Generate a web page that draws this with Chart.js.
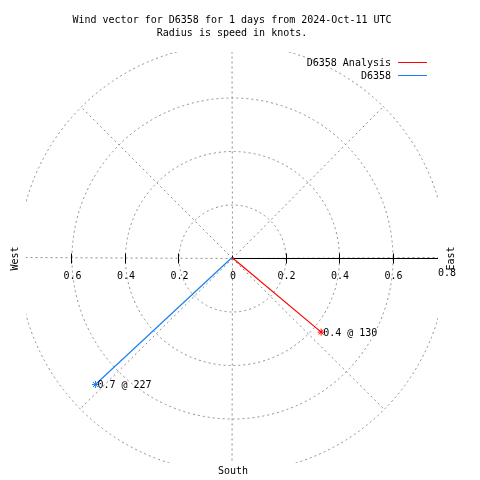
<!DOCTYPE html>
<html lang="en">
  <head>
    <meta charset="UTF-8" />
    <title>Wind vector for D6358</title>
    <script src="https://cdn.jsdelivr.net/npm/chart.js"></script>
    <style>
      body {
        margin: 0;
        background: white;
      }
      canvas {
        display: block;
      }
    </style>
  </head>
  <body>
    <canvas id="windChart" width="480" height="480"></canvas>

    <script>
      const titleLines = [
        "Wind vector for D6358 for 1 days from 2024-Oct-11 UTC",
        "Radius is speed in knots.",
      ];
      const seriesNames = ["D6358 Analysis", "D6358"];
      const seriesColors = ["#ff0000", "#1a80f0"];
      const speeds = [0.435, 0.698]; // knots
      const directions = [130, 227]; // degrees, clockwise from north
      const ringValues = [0.2, 0.4, 0.6, 0.8];
      const spokeAngles = [0, 45, 90, 135, 180, 225, 270, 315];
      const eastTicks = [0, 0.2, 0.4, 0.6, 0.8];
      const westTicks = [0.2, 0.4, 0.6];
      const plotLimit = 0.77;

      const FONT = "10px 'DejaVu Sans Mono', monospace";

      function toXY(speed, deg) {
        const rad = (deg * Math.PI) / 180;
        return { x: speed * Math.sin(rad), y: speed * Math.cos(rad) };
      }

      const polarGrid = {
        id: "polarGrid",
        beforeDatasetsDraw(chart) {
          const { ctx, chartArea, scales } = chart;
          const sx = scales.x, sy = scales.y;
          const cx = Math.round(sx.getPixelForValue(0)) + 0.5;
          const cy = Math.round(sy.getPixelForValue(0)) + 0.5;
          const unit = sx.getPixelForValue(1) - sx.getPixelForValue(0);

          // dotted rings and spokes, clipped to the square plot box
          ctx.save();
          ctx.beginPath();
          ctx.rect(chartArea.left, chartArea.top, chartArea.width, chartArea.height);
          ctx.clip();
          ctx.strokeStyle = "#8c8c8c";
          ctx.lineWidth = 1;
          ctx.setLineDash([2, 3]);
          ringValues.forEach((r) => {
            ctx.beginPath();
            ctx.arc(cx, cy, r * unit, 0, Math.PI * 2);
            ctx.stroke();
          });
          const outer = ringValues[ringValues.length - 1];
          spokeAngles.forEach((a) => {
            const p = toXY(outer, a);
            ctx.beginPath();
            ctx.moveTo(cx, cy);
            ctx.lineTo(sx.getPixelForValue(p.x), sy.getPixelForValue(p.y));
            ctx.stroke();
          });
          ctx.restore();

          // solid east axis with tick marks
          ctx.save();
          ctx.strokeStyle = "#000";
          ctx.lineWidth = 1;
          ctx.beginPath();
          ctx.moveTo(cx, cy);
          ctx.lineTo(sx.getPixelForValue(plotLimit), cy);
          ctx.stroke();
          ctx.beginPath();
          eastTicks.concat(westTicks.map((v) => -v)).forEach((v) => {
            if (Math.abs(v) > plotLimit) return;
            const px = Math.round(sx.getPixelForValue(v)) + 0.5;
            if (v === 0) {
              ctx.moveTo(px, cy - 3);
              ctx.lineTo(px, cy);
            } else {
              ctx.moveTo(px, cy - 5);
              ctx.lineTo(px, cy + 5);
            }
          });
          ctx.stroke();

          // tick labels
          ctx.fillStyle = "#000";
          ctx.font = FONT;
          ctx.textAlign = "center";
          ctx.textBaseline = "middle";
          eastTicks.forEach((v) => {
            const label = v === 0 ? "0" : v.toFixed(1);
            const dy = v > plotLimit ? 15 : 18;
            ctx.fillText(label, sx.getPixelForValue(v) + 1, cy + dy);
          });
          westTicks.forEach((v) => {
            ctx.fillText(v.toFixed(1), sx.getPixelForValue(-v) + 1, cy + 18);
          });
          ctx.restore();
        },
        afterDatasetsDraw(chart) {
          const { ctx } = chart;
          ctx.save();
          ctx.fillStyle = "#000";
          ctx.font = FONT;
          ctx.textAlign = "left";
          ctx.textBaseline = "middle";
          chart.data.datasets.forEach((ds, i) => {
            const tip = chart.getDatasetMeta(i).data[1];
            ctx.fillText(
              speeds[i].toFixed(1) + " @ " + directions[i],
              tip.x + 2,
              tip.y + 1
            );
          });
          ctx.restore();
        },
        afterDraw(chart) {
          const { ctx, scales } = chart;
          const cx = scales.x.getPixelForValue(0);
          const cy = scales.y.getPixelForValue(0);
          ctx.save();
          ctx.fillStyle = "#000";
          ctx.font = FONT;
          ctx.textBaseline = "middle";

          // title
          ctx.textAlign = "center";
          titleLines.forEach((t, i) => ctx.fillText(t, cx, 20 + i * 13));

          // compass labels
          ctx.fillText("South", cx + 1, 471);
          [["West", 15], ["East", 451]].forEach(([txt, px]) => {
            ctx.save();
            ctx.translate(px, cy + 1);
            ctx.rotate(-Math.PI / 2);
            ctx.fillText(txt, 0, 0);
            ctx.restore();
          });

          // legend, text right aligned with line sample after it
          ctx.textAlign = "right";
          seriesNames.forEach((name, i) => {
            const ly = 63 + i * 13;
            ctx.fillText(name, 391, ly);
            ctx.strokeStyle = seriesColors[i];
            ctx.lineWidth = 1;
            ctx.beginPath();
            ctx.moveTo(398, Math.round(ly) - 0.5);
            ctx.lineTo(427, Math.round(ly) - 0.5);
            ctx.stroke();
          });
          ctx.restore();
        },
      };

      new Chart(document.getElementById("windChart"), {
        type: "scatter",
        data: {
          datasets: seriesNames.map((name, i) => ({
            label: name,
            data: [{ x: 0, y: 0 }, toXY(speeds[i], directions[i])],
            showLine: true,
            borderColor: seriesColors[i],
            borderWidth: 1.2,
            pointStyle: "star",
            pointRadius: [0, 3.5],
            pointBorderColor: seriesColors[i],
            pointBackgroundColor: seriesColors[i],
            pointBorderWidth: 1,
          })),
        },
        options: {
          responsive: false,
          animation: false,
          devicePixelRatio: 1,
          layout: { padding: { left: 26, right: 42, top: 52, bottom: 17 } },
          scales: {
            x: { type: "linear", min: -plotLimit, max: plotLimit, display: false },
            y: { type: "linear", min: -plotLimit, max: plotLimit, display: false },
          },
          plugins: {
            legend: { display: false },
            title: { display: false },
            tooltip: { enabled: false },
          },
        },
        plugins: [polarGrid],
      });
    </script>
  </body>
</html>
